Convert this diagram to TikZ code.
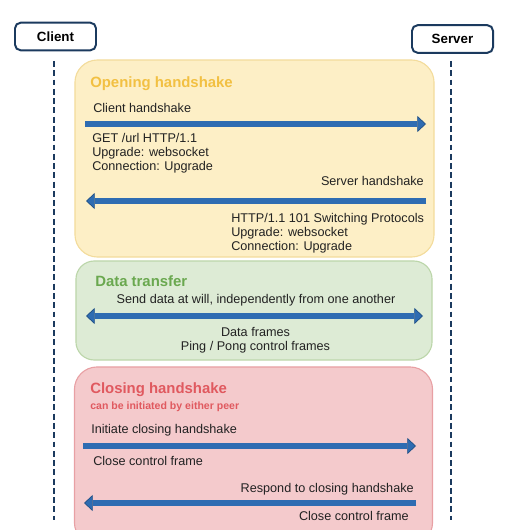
\documentclass[tikz,border=0pt]{standalone}
\usepackage{fontspec}
\setmainfont{Liberation Sans}
\usepackage{xcolor}
\usetikzlibrary{arrows.meta,positioning}
\definecolor{navy}{HTML}{1B3A5E}
\definecolor{arrowblue}{HTML}{2E6CB2}
\definecolor{arrowedge}{HTML}{1E4F86}
\definecolor{openfill}{HTML}{FDEFC6}
\definecolor{opendraw}{HTML}{F3DC9C}
\definecolor{opentitle}{HTML}{F2C042}
\definecolor{datafill}{HTML}{DDEBD5}
\definecolor{datadraw}{HTML}{BCD6AA}
\definecolor{datatitle}{HTML}{6AA84F}
\definecolor{closefill}{HTML}{F4CACC}
\definecolor{closedraw}{HTML}{E8A0A4}
\definecolor{closetitle}{HTML}{E0595F}
\definecolor{msgtext}{HTML}{222222}

\begin{document}
\begin{tikzpicture}[
			x=0.025cm,
			y=-0.025cm,
			actor/.style={
				rectangle,
				draw=navy,
				line width=1.4pt,
				rounded corners=4pt,
				fill=white,
				minimum width=2.025cm,
				minimum height=0.69cm,
				font=\fontsize{9.5}{11}\selectfont\bfseries
			},
			lifeline/.style={draw=navy, line width=2pt, dash pattern=on 4.2pt off 2.4pt},
			phase/.style={
				rectangle,
				line width=0.8pt,
				rounded corners=16pt
			},
			phasetitle/.style={anchor=base west, inner sep=0pt, font=\fontsize{10.6}{12}\selectfont\bfseries},
			msg/.style={inner sep=0pt, text=msgtext, align=left, font=\fontsize{9}{10}\selectfont},
			bigarrow/.style={draw=arrowedge, double=arrowblue, line width=0.5pt, double distance=3.8pt,
				-{Triangle[length=6.2pt,width=11.5pt,fill=arrowblue]}},
			bothways/.style={{Triangle[length=6.2pt,width=11.5pt,fill=arrowblue]}-{Triangle[length=6.2pt,width=11.5pt,fill=arrowblue]}}
			]
			\useasboundingbox (0,0) rectangle (507,530);
			\clip (0,0) rectangle (507,530);
			% The two peers and their lifelines
			\node[actor] (client) at (55.5,36.5) {Client};
			\node[actor] (server) at (452.5,39) {Server};
			\coordinate (client-top) at (54,61);
			\coordinate (client-end) at (54,520);
			\coordinate (server-top) at (451,61);
			\coordinate (server-end) at (451,520);
			\draw[lifeline] (client-top) -- (client-end);
			\draw[lifeline] (server-top) -- (server-end);
			% The three phases of the connection
			\node[phase, fill=openfill, draw=opendraw, minimum width=8.975cm, minimum height=4.925cm] (opening) at (254.5,158.5) {};
			\node[phase, fill=datafill, draw=datadraw, minimum width=8.9cm, minimum height=2.475cm, rounded corners=13pt] (transfer) at (254,310.5) {};
			\node[phase, fill=closefill, draw=closedraw, minimum width=8.95cm, minimum height=4.45cm] (closing) at (253.5,456) {};
			\node[phasetitle, text=opentitle] (opening-title) at (90,88) {Opening handshake};
			\node[phasetitle, text=datatitle] (transfer-title) at (95,286) {Data transfer};
			\node[phasetitle, text=closetitle] (closing-title) at (90,393) {Closing handshake};
			\node[phasetitle, text=closetitle, font=\fontsize{7.5}{8}\selectfont\bfseries] (closing-note) at (90,409) {can be initiated by either peer};
			% Opening handshake messages
			\coordinate (hs-c) at (85,124);
			\coordinate (hs-s) at (426,124);
			\draw[bigarrow] (hs-c) -- (hs-s);
			\node[msg, anchor=base west] (hs-label) at (93,113) {Client handshake};
			\node[msg, anchor=north west] (hs-req) at (92,133) {GET /url HTTP/1.1\\Upgrade: websocket\\Connection: Upgrade};
			\coordinate (sh-s) at (426,201);
			\coordinate (sh-c) at (86,201);
			\draw[bigarrow] (sh-s) -- (sh-c);
			\node[msg, anchor=base east] (sh-label) at (424,186) {Server handshake};
			\node[msg, anchor=north west] (sh-resp) at (231,213) {HTTP/1.1 101 Switching Protocols\\Upgrade: websocket\\Connection: Upgrade};
			% Data transfer in both directions
			\coordinate (dt-c) at (86,316);
			\coordinate (dt-s) at (423,316);
			\draw[bigarrow, bothways] (dt-c) -- (dt-s);
			\node[msg, anchor=base] (dt-label) at (256,303) {Send data at will, independently from one another};
			\node[msg, anchor=north, align=center] (dt-frames) at (255.5,327) {Data frames\\Ping / Pong control frames};
			% Closing handshake messages
			\coordinate (cl-c) at (83,446);
			\coordinate (cl-s) at (416,446);
			\draw[bigarrow] (cl-c) -- (cl-s);
			\node[msg, anchor=base west] (cl-label) at (91,433) {Initiate closing handshake};
			\node[msg, anchor=base west] (cl-frame) at (93,465) {Close control frame};
			\coordinate (rs-s) at (416,503);
			\coordinate (rs-c) at (84,503);
			\draw[bigarrow] (rs-s) -- (rs-c);
			\node[msg, anchor=base east] (rs-label) at (414,492) {Respond to closing handshake};
			\node[msg, anchor=base east] (rs-frame) at (409,520) {Close control frame};
		\end{tikzpicture}
\end{document}
